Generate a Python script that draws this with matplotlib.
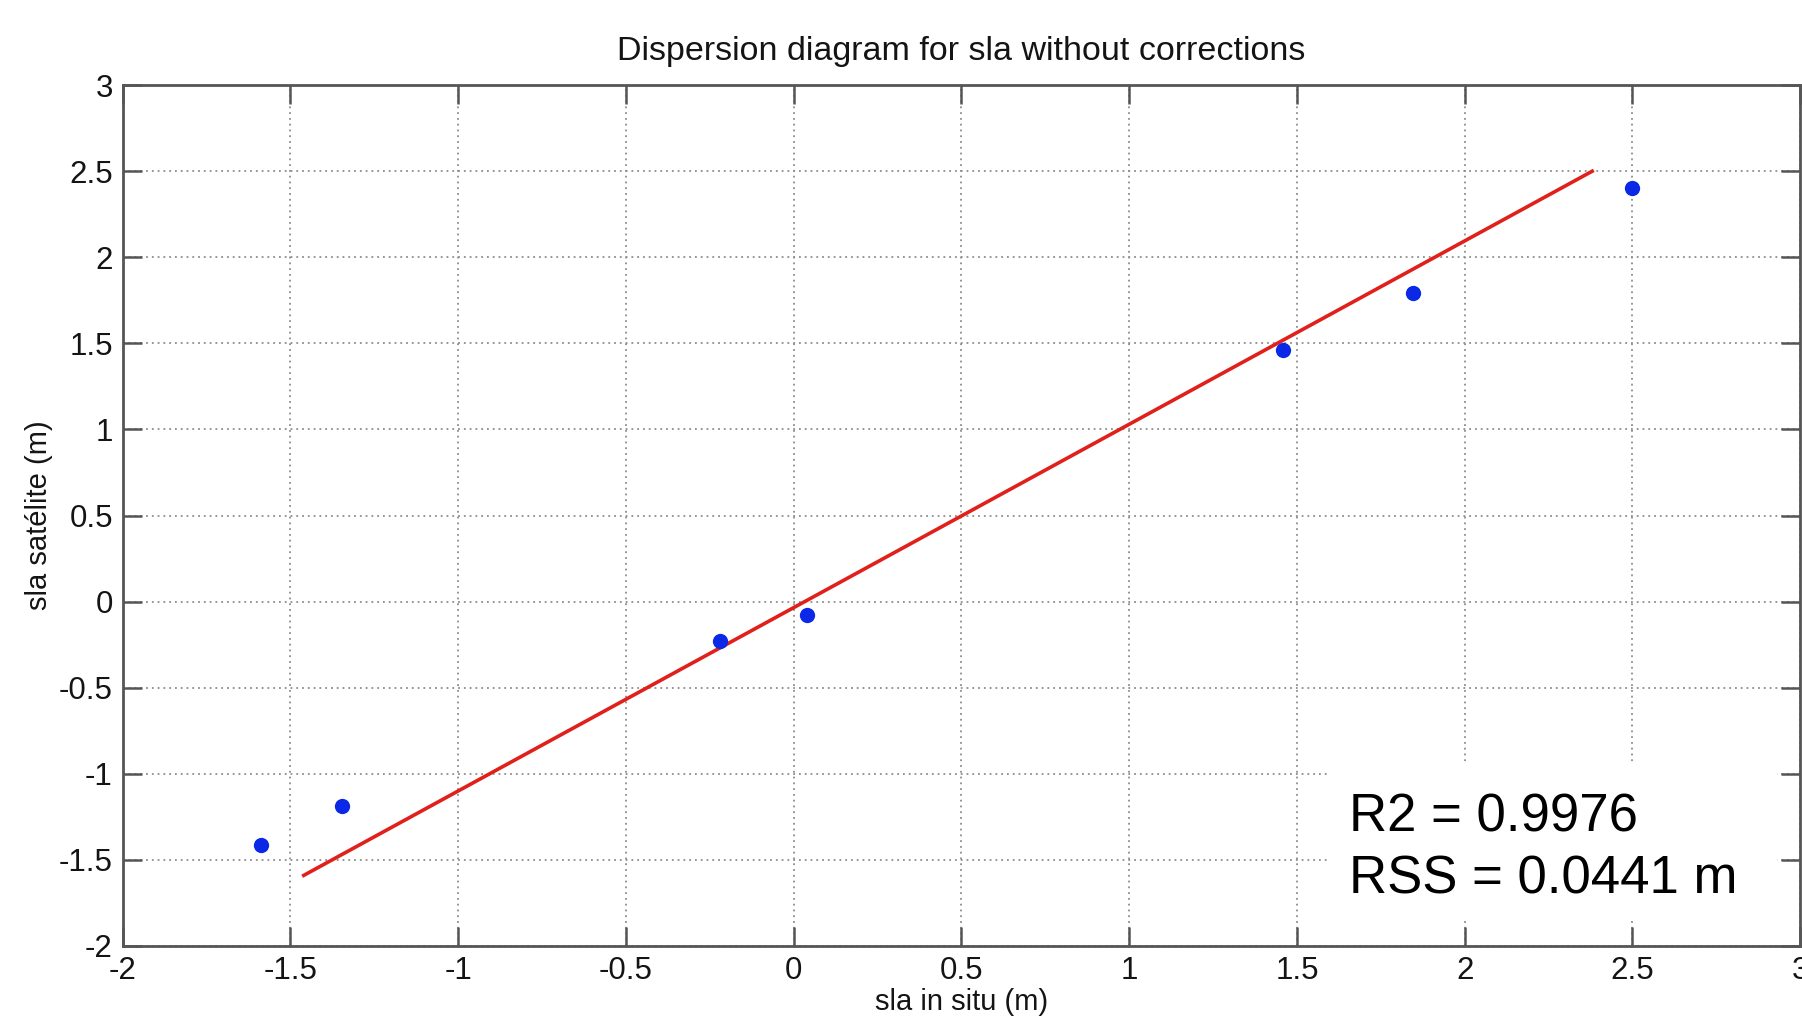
"""
Dispersion diagram: satellite sla against in-situ sla, with the fitted line
and the R2 / RSS summary in the lower-right corner.
"""
import matplotlib
matplotlib.use("Agg")
import matplotlib.pyplot as plt
from matplotlib.patches import Rectangle

# observations (m)
sla_in_situ = [-1.586, -1.346, -0.219, 0.041, 1.459, 1.846, 2.500]
sla_satellite = [-1.413, -1.187, -0.227, -0.080, 1.460, 1.793, 2.400]

# fitted line end points (m)
fit_x = [-1.46, 2.38]
fit_y = [-1.59, 2.50]

x_ticks = [-2, -1.5, -1, -0.5, 0, 0.5, 1, 1.5, 2, 2.5, 3]
y_ticks = [-2, -1.5, -1, -0.5, 0, 0.5, 1, 1.5, 2, 2.5, 3]
stats_text = "R2 = 0.9976\nRSS = 0.0441 m"

plt.rcParams["font.family"] = ["Liberation Sans", "DejaVu Sans"]
ink = "#141414"

fig = plt.figure(figsize=(18.02, 10.26), dpi=100)
ax = fig.add_axes([0.068, 0.078, 0.931, 0.839])

ax.plot(fit_x, fit_y, color="#e0201b", linewidth=2.6, zorder=3)
ax.plot(sla_in_situ, sla_satellite, "o", color="#0a28e6", markersize=11,
        markeredgewidth=0, zorder=4)

ax.set_xlim(-2, 3)
ax.set_ylim(-2, 3)
ax.set_xticks(x_ticks)
ax.set_yticks(y_ticks)
ax.set_xticklabels([f"{t:g}" for t in x_ticks])
ax.set_yticklabels([f"{t:g}" for t in y_ticks])

ax.grid(True, color="#8c8c8c", linestyle=(0, (1, 2.2)), linewidth=1.3)
ax.tick_params(direction="in", length=14, width=1.8, color="#555555",
               top=True, right=True, labelsize=22.5, pad=7, labelcolor=ink)
for s in ax.spines.values():
    s.set_color("#555555")
    s.set_linewidth(2.0)

ax.set_title("Dispersion diagram for sla without corrections", fontsize=24.5,
             color=ink, pad=18)
ax.set_xlabel("sla in situ (m)", fontsize=21, color=ink, labelpad=2)
ax.set_ylabel("sla satélite (m)", fontsize=21, color=ink, labelpad=4)

# white summary box covering the grid in the lower right
ax.add_patch(Rectangle((0.719, 0.03), 0.267, 0.18, transform=ax.transAxes,
                       facecolor="white", edgecolor="none", zorder=5))
ax.text(0.731, 0.113, stats_text, transform=ax.transAxes, fontsize=38,
        va="center", ha="left", linespacing=1.32, color="black", zorder=6)

fig.savefig("out.png", dpi=100)
